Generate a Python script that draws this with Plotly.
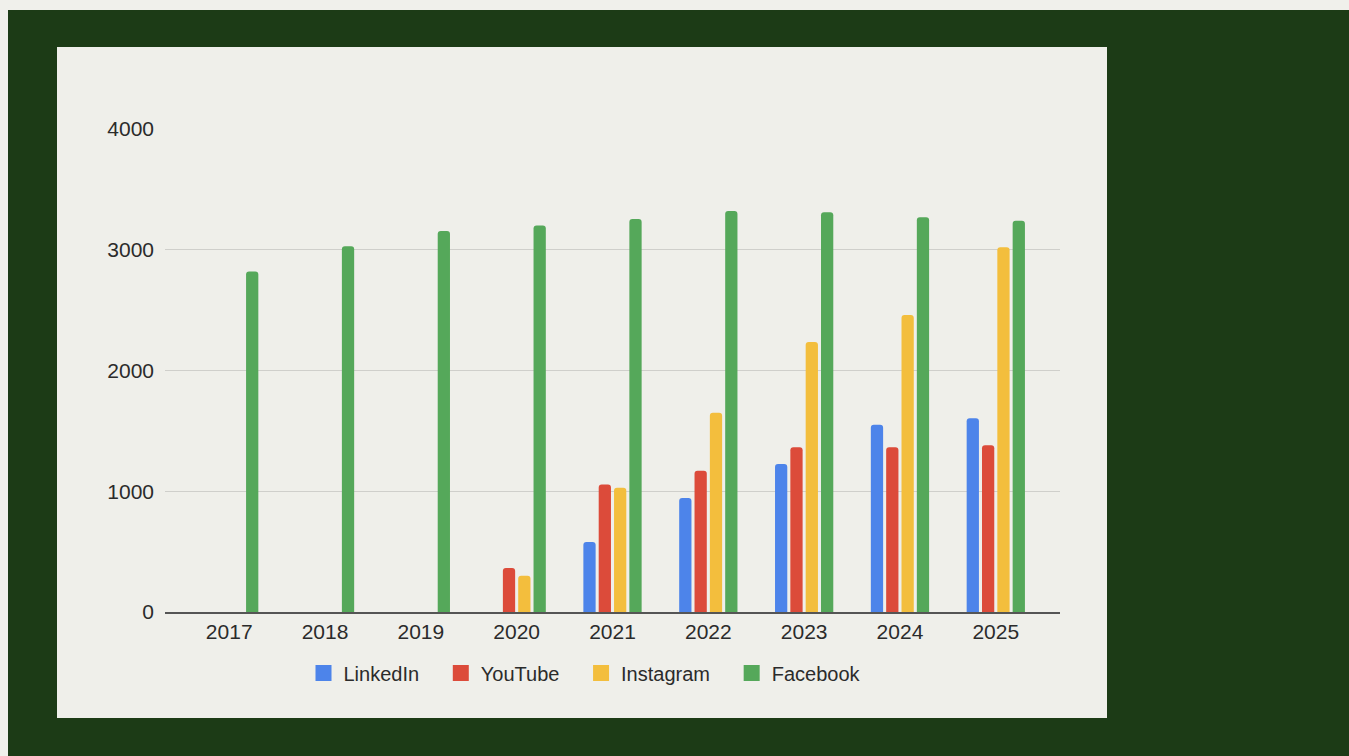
import plotly.graph_objects as go

years = ["2017", "2018", "2019", "2020", "2021", "2022", "2023", "2024", "2025"]
linkedin = [None, None, None, None, 580, 945, 1225, 1550, 1605]
youtube = [None, None, None, 365, 1055, 1170, 1365, 1365, 1380]
instagram = [None, None, None, 300, 1030, 1650, 2235, 2460, 3020]
facebook = [2820, 3030, 3155, 3200, 3255, 3320, 3310, 3270, 3240]

series = [
    ("LinkedIn", linkedin, "#4d84ea"),
    ("YouTube", youtube, "#dc4b3a"),
    ("Instagram", instagram, "#f3be3d"),
    ("Facebook", facebook, "#55a85a"),
]

W, H = 1349, 756
fig = go.Figure()
for name, vals, col in series:
    fig.add_trace(go.Bar(x=years, y=vals, name=name, marker_color=col,
                         marker_line_width=0, showlegend=False))
pad = "\u00a0\u00a0\u00a0"
for i, (name, vals, col) in enumerate(series):
    label = name + (pad if i < len(series) - 1 else "")
    fig.add_trace(go.Scatter(x=[None], y=[None], mode="markers", name=label,
                             marker=dict(symbol="square", size=18, color=col)))

font = dict(family="Liberation Sans, Arial, sans-serif", size=21, color="#2b2b2b")
lfont = dict(family="Liberation Sans, Arial, sans-serif", size=20, color="#2b2b2b")

fig.update_layout(
    width=W, height=H,
    autosize=False,
    margin=dict(l=0, r=0, t=0, b=0, pad=0),
    paper_bgcolor="#f0f0eb",
    plot_bgcolor="rgba(0,0,0,0)",
    font=font,
    barmode="group",
    bargap=0.36,
    bargroupgap=0.2,
    barcornerradius=3,
    xaxis=dict(domain=[165 / W, 1060 / W], type="category", automargin=False,
               range=[-0.67, 8.67], showgrid=False, showline=True,
               linecolor="#555555", linewidth=1.5, ticks="", tickfont=font),
    yaxis=dict(domain=[1 - 612 / H, 1 - 129 / H], range=[0, 4000], automargin=False,
               tickvals=[0, 1000, 2000, 3000, 4000], showgrid=True,
               gridcolor="#cfcfcb", gridwidth=1, zeroline=False,
               ticks="", ticklabelstandoff=10, tickfont=font),
    legend=dict(orientation="h", x=585 / W, xanchor="center",
                y=1 - 673 / H, yanchor="middle", font=lfont,
                bgcolor="rgba(0,0,0,0)", itemclick=False),
    shapes=[
        dict(type="rect", xref="paper", yref="paper", x0=8 / W, x1=1,
             y0=0, y1=1 - 10 / H, fillcolor="#1c3b16", line_width=0,
             layer="below"),
        dict(type="rect", xref="paper", yref="paper", x0=57 / W, x1=1107 / W,
             y0=1 - 718 / H, y1=1 - 47 / H, fillcolor="#efefea",
             line_width=0, layer="below"),
    ],
)

fig.write_html("out.html")
